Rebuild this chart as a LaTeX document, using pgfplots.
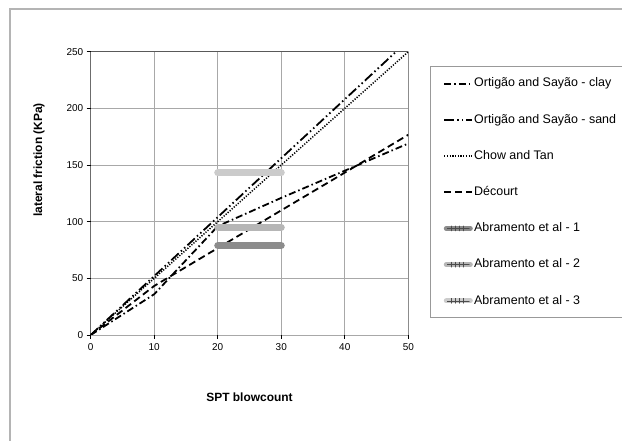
\documentclass[border=0pt]{standalone}
\usepackage{fontspec}
\setmainfont{Liberation Sans}
\usepackage{pgfplots}
\pgfplotsset{compat=1.18}

\definecolor{frame}{HTML}{B4B4B4}
\definecolor{gridc}{HTML}{A8A8A8}
\definecolor{abrA}{HTML}{8C8C8C}
\definecolor{abrB}{HTML}{B6B6B6}
\definecolor{abrC}{HTML}{CBCBCB}

\tikzset{
  clay/.style={black,line width=1.8bp,dash pattern=on 7bp off 3bp on 1.5bp off 3bp},
  sand/.style={black,line width=1.8bp,dash pattern=on 10bp off 3bp on 1.5bp off 3bp on 1.5bp off 3bp},
  chow/.style={black,line width=1.5bp,dash pattern=on 1.2bp off 1.5bp},
  dec/.style={black,line width=1.8bp,dash pattern=on 7bp off 4bp},
}
\newcommand{\barlegend}[1]{%
  \draw[line width=5bp,line cap=round,#1] (2bp,0bp) -- (26bp,0bp);
  \draw[black!70,line width=0.5bp] (3bp,0bp) -- (25bp,0bp);
  \foreach \t in {7,11,15,19} \draw[black!70,line width=0.5bp] (\t bp,-2.5bp) -- (\t bp,2.5bp);}

\begin{document}
\begin{tikzpicture}
\draw[frame,line width=1.2bp] (10bp,-5bp) -- (10bp,432bp) -- (640bp,432bp);
\begin{axis}[
  at={(90.7bp,106bp)}, anchor=south west,
  scale only axis, width=317.6bp, height=283.3bp,
  xmin=0, xmax=50, ymin=0, ymax=250,
  xtick={0,10,...,50}, ytick={0,50,...,250},
  grid=major, grid style={gridc,line width=0.7bp},
  separate axis lines,
  x axis line style={draw=none}, y axis line style={draw=none},
  tick align=outside, major tick length=4bp,
  tick style={black,line width=0.7bp},
  xtick pos=bottom, ytick pos=left,
  /pgf/number format/assume math mode=true,
  tick label style={font=\fontsize{10}{12}\selectfont},
  xticklabel style={yshift=-1bp},
  xlabel={SPT blowcount}, ylabel={lateral friction (KPa)},
  label style={font=\fontsize{12}{14}\selectfont\bfseries},
  xlabel style={at={(axis description cs:0.5,-0.219)}, anchor=center},
  ylabel style={at={(axis description cs:-0.163,0.618)}, anchor=center},
  legend style={at={(1.0683,0.06)}, anchor=south west, draw=gray!80, line width=0.8bp,
    inner xsep=13bp, inner ysep=10bp, font=\fontsize{12.5}{15}\selectfont,
    row sep=22.7bp, nodes={inner sep=1bp, text height=9bp, text depth=2.5bp}},
  legend cell align=left,
  legend image code/.code={\draw[#1] (0bp,0bp) -- (28bp,0bp);},
]
\addplot[clay] coordinates {(0,0)(10,36)(20,96)(30,121)(40,145)(50,169)};
\addlegendentry{Ortigão and Sayão - clay}
\addplot[sand] coordinates {(0,0)(10,52)(20,104)(30,156)(40,208)(50,260)};
\addlegendentry{Ortigão and Sayão - sand}
\addplot[chow] coordinates {(0,0)(10,50)(20,100)(30,150)(40,200)(50,250)};
\addlegendentry{Chow and Tan}
\addplot[dec] coordinates {(0,0)(10,43.3)(20,76.7)(30,110)(40,143.3)(50,176.7)};
\addlegendentry{Décourt}
\addplot[abrA,line width=7bp,line cap=round,legend image code/.code={\barlegend{abrA}}] coordinates {(20,79)(30,79)};
\addlegendentry{Abramento et al - 1}
\addplot[abrB,line width=7bp,line cap=round,legend image code/.code={\barlegend{abrB}}] coordinates {(20,95)(30,95)};
\addlegendentry{Abramento et al - 2}
\addplot[abrC,line width=7bp,line cap=round,legend image code/.code={\barlegend{abrC}}] coordinates {(20,143)(30,143)};
\addlegendentry{Abramento et al - 3}
\draw[black,line width=0.9bp] (axis cs:0,250) -- (axis cs:0,0) -- (axis cs:50,0);
\draw[gray!70!black,line width=0.8bp] (axis cs:0,250) -- (axis cs:50,250) -- (axis cs:50,0);
\end{axis}
\pgfresetboundingbox
\path[use as bounding box] (0bp,0bp) rectangle (622bp,441bp);
\end{tikzpicture}
\end{document}
